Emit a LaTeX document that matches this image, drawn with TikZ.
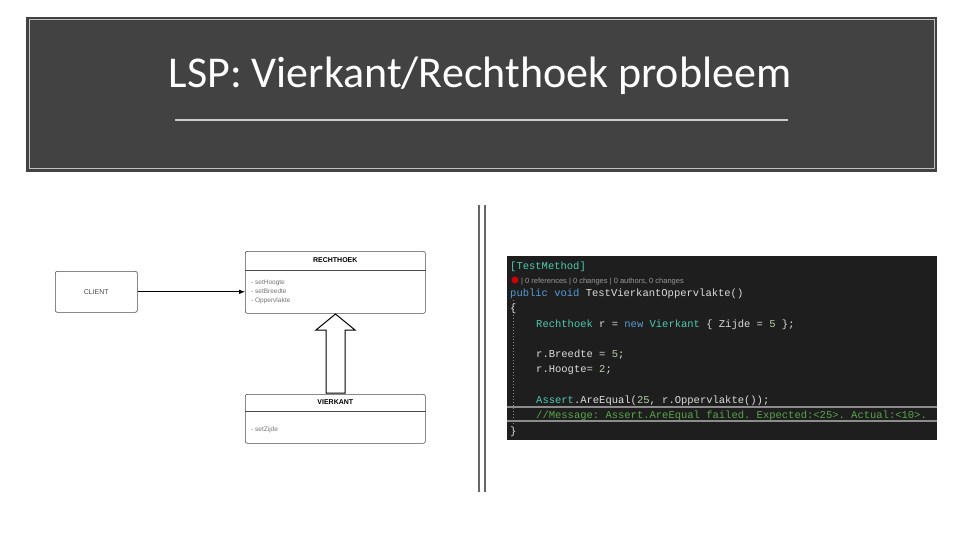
\documentclass[tikz,border=0pt]{standalone}
\usepackage{fontspec}
\setmainfont{Carlito}
\setsansfont{Liberation Sans}
\setmonofont{Liberation Mono}
\usepackage{tikz}
\usetikzlibrary{calc}
\usetikzlibrary{positioning}
\definecolor{banner}{HTML}{424242}
\definecolor{vsbg}{HTML}{1E1E1E}
\definecolor{vstype}{HTML}{4EC9B0}
\definecolor{vskey}{HTML}{569CD6}
\definecolor{vstxt}{HTML}{DCDCDC}
\definecolor{vsnum}{HTML}{B5CEA8}
\definecolor{vscom}{HTML}{57A64A}
\tikzset{umlbox/.style={draw=black!70,rounded corners=2pt,line width=0.6pt},
         code/.style={anchor=base west,inner sep=0pt,font=\ttfamily\fontsize{10.5}{12}\selectfont,text=vstxt},
         meth/.style={anchor=base west,inner sep=0pt,font=\sffamily\fontsize{6.5}{7}\selectfont,text=black!55}}
\begin{document}
\begin{tikzpicture}[x=1pt,y=-1pt]
\useasboundingbox (0,0) rectangle (960,540);
%banner
\fill[banner] (26,17) rectangle (937,172);
\draw[black!25,line width=1pt] (29,20) rectangle (934,169);
\node[text=white!92,font=\fontsize{44}{50}\selectfont] (title) at (480,76) {LSP: Vierkant/Rechthoek probleem};
\coordinate (UL) at (175,120);
\coordinate (UR) at (788,120);
\draw[black!20,line width=2pt] (UL)--(UR);

%separator
\draw[black!60,line width=2.5pt] (479,205)--(479,492);
\draw[black!60,line width=2.5pt] (485,205)--(485,492);

%uml
\node[umlbox,minimum width=82,minimum height=41,anchor=north west] (client) at (55,271) {};
\node[font=\sffamily\fontsize{7}{8}\selectfont,text=black!70] at (client.center) {CLIENT};
\node[umlbox,minimum width=180,minimum height=62,anchor=north west] (recht) at (245,251) {};
\draw[black!70,line width=0.6pt] ($(recht.north west)+(0,19)$)--($(recht.north east)+(0,19)$);
\node[font=\sffamily\bfseries\fontsize{7}{8}\selectfont] at ($(recht.north)+(0,9.5)$) {RECHTHOEK};
\node[meth] at (251,284) {- setHoogte};
\node[meth] at (251,293) {- setBreedte};
\node[meth] at (251,302) {- Oppervlakte};
\node[umlbox,minimum width=180,minimum height=49,anchor=north west] (vier) at (245,394) {};
\draw[black!70,line width=0.6pt] ($(vier.north west)+(0,17)$)--($(vier.north east)+(0,17)$);
\node[font=\sffamily\bfseries\fontsize{7}{8}\selectfont] at ($(vier.north)+(0,8.5)$) {VIERKANT};
\node[meth] at (251,431) {- setZijde};
\draw[-latex,line width=1pt] (client.east)--(client.east-|recht.west);
\draw[black,line width=1pt,fill=white] (326,393)--(326,330)--(316,330)--(335.5,314)--(355,330)--(345,330)--(345,393)--cycle;

%code
\fill[vsbg] (507,256) rectangle (937,440);
\fill[black!45] (507,406) rectangle (937,422);
\fill[vsbg] (507,408) rectangle (937,420);
\draw[black!45,dash pattern=on 1pt off 2pt] (513,300)--(513,425);
\node[code,text=vstype] at (510,269) {[TestMethod]};
\fill[red!80!black] (515,280) circle (3.5);
\node[anchor=base west,inner sep=0pt,font=\sffamily\fontsize{7.5}{8}\selectfont,text=black!40] at (521,283) {| 0 references | 0 changes | 0 authors, 0 changes};
\node[code] at (510,296) {\textcolor{vskey}{public void} TestVierkantOppervlakte()};
\node[code] at (510,311) {\{};
\node[code] at (536,327) {\textcolor{vstype}{Rechthoek} r = \textcolor{vskey}{new} \textcolor{vstype}{Vierkant} \{ Zijde = \textcolor{vsnum}{5} \};};
\node[code] at (536,357) {r.Breedte = \textcolor{vsnum}{5};};
\node[code] at (536,372) {r.Hoogte= \textcolor{vsnum}{2};};
\node[code] at (536,403) {\textcolor{vstype}{Assert}.AreEqual(\textcolor{vsnum}{25}, r.Oppervlakte());};
\node[code,text=vscom] at (536,418) {//Message: Assert.AreEqual failed. Expected:<25>. Actual:<10>.};
\node[code] at (510,434) {\}};
\end{tikzpicture}
\end{document}
